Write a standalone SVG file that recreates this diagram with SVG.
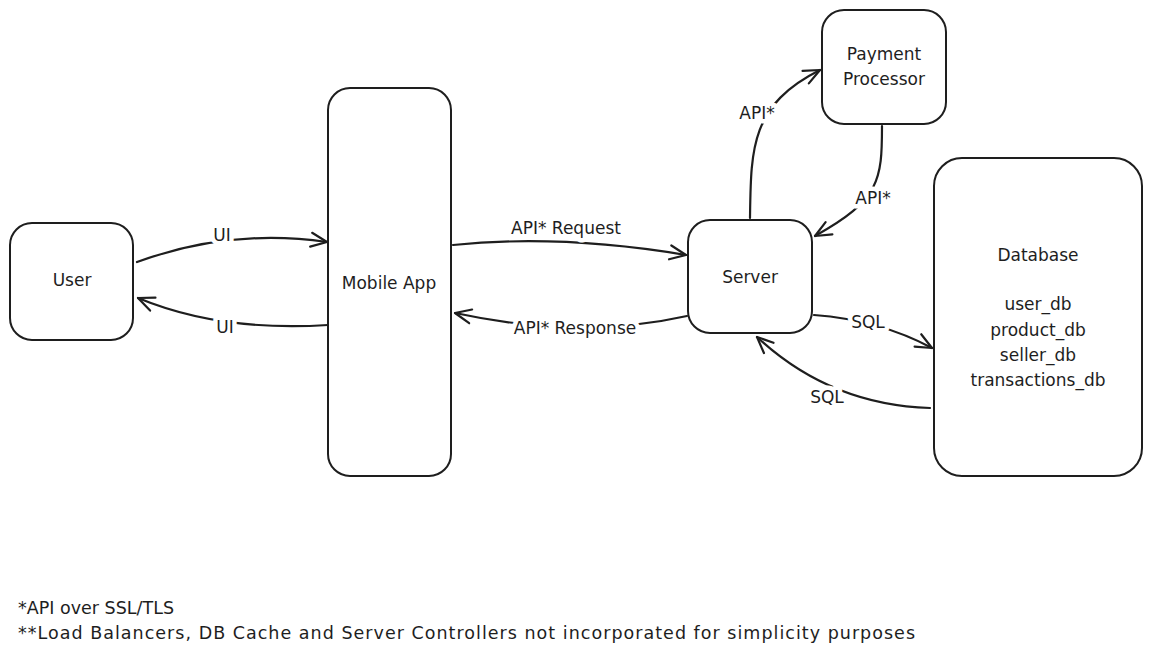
<svg xmlns="http://www.w3.org/2000/svg" width="1152" height="655" viewBox="0 0 1152 655">
<defs>
<style>
.box{fill:#fff;stroke:#1e1e1e;stroke-width:2}
.t{font-family:"DejaVu Sans","Liberation Sans",sans-serif;font-size:17px;fill:#1e1e1e;text-anchor:middle;dominant-baseline:central}
.conn path{fill:none;stroke:#1e1e1e;stroke-width:2.2;stroke-linecap:round;marker-end:url(#arr)}
.lbl{font-family:"DejaVu Sans","Liberation Sans",sans-serif;font-size:17px;fill:#1e1e1e;text-anchor:middle;dominant-baseline:central;stroke:#fff;stroke-width:9;paint-order:stroke;stroke-linejoin:round}
.note{font-family:"DejaVu Sans","Liberation Sans",sans-serif;font-size:17.5px;fill:#1e1e1e}
</style>
<marker id="arr" viewBox="0 0 20 20" refX="18" refY="10" markerWidth="20" markerHeight="20" markerUnits="userSpaceOnUse" orient="auto">
<path d="M2,3 L18,10 L2,17" fill="none" stroke="#1e1e1e" stroke-width="2.2" stroke-linecap="round" stroke-linejoin="round"/>
</marker>
</defs>
<rect width="1152" height="655" fill="#fff"/>
<g id="connectors" class="conn">
<path d="M137,262 Q230,228 327,242"/>
<path d="M328,325 Q220,332 138,298"/>
<path d="M453,245 Q560,234 686,255"/>
<path d="M687,316 Q580,340 455,313"/>
<path d="M750,218 C751,150 750,105 820,70"/>
<path d="M882,126 C882,180 880,200 815,236"/>
<path d="M814,315 Q880,320 932,348"/>
<path d="M930,408 Q830,405 757,337"/>
</g>
<g id="connector-labels">
<text class="lbl" x="222" y="235">UI</text>
<text class="lbl" x="225" y="327">UI</text>
<text class="lbl" x="566" y="228">API* Request</text>
<text class="lbl" x="575" y="328">API* Response</text>
<text class="lbl" x="757" y="113">API*</text>
<text class="lbl" x="873" y="198">API*</text>
<text class="lbl" x="868" y="322">SQL</text>
<text class="lbl" x="827" y="397">SQL</text>
</g>
<g id="user">
<rect class="box" x="10" y="223" width="123" height="117" rx="22"/>
<text class="t" x="72" y="280">User</text>
</g>
<g id="mobile-app">
<rect class="box" x="328" y="88" width="123" height="388" rx="22"/>
<text class="t" x="389" y="283">Mobile App</text>
</g>
<g id="server">
<rect class="box" x="688" y="220" width="124" height="113" rx="22"/>
<text class="t" x="750" y="277">Server</text>
</g>
<g id="payment-processor">
<rect class="box" x="822" y="10" width="124" height="114" rx="22"/>
<text class="t" x="884" y="54">Payment</text>
<text class="t" x="884" y="79">Processor</text>
</g>
<g id="database">
<rect class="box" x="934" y="158" width="208" height="318" rx="28"/>
<text class="t" x="1038" y="255">Database</text>
<text class="t" x="1038" y="304">user_db</text>
<text class="t" x="1038" y="330">product_db</text>
<text class="t" x="1038" y="355">seller_db</text>
<text class="t" x="1038" y="380">transactions_db</text>
</g>
<g id="notes">
<text class="note" x="18" y="614">*API over SSL/TLS</text>
<text class="note" x="18" y="639" textLength="897" lengthAdjust="spacing">**Load Balancers, DB Cache and Server Controllers not incorporated for simplicity purposes</text>
</g>
</svg>
